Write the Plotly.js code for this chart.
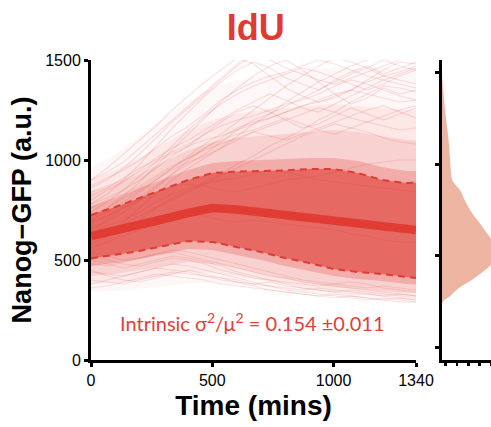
<!DOCTYPE html>
<html><head><meta charset="utf-8">
<script src="https://cdn.plot.ly/plotly-3.0.1.min.js"></script>
<style>html,body{margin:0;padding:0;background:#fff}</style>
</head><body><div id="chart" style="width:491px;height:427px"></div>
<script>
// summary time grid (mins)
const time = [0,100,200,300,400,500,600,700,800,900,1000,1100,1200,1300,1340];
const meanGFP  = [620,645,675,705,735,760,752,738,720,712,700,688,672,655,650];
const upperSD  = [725,765,810,855,900,935,942,945,948,955,955,935,900,885,887];
const lowerSD  = [508,525,545,570,595,590,565,540,510,485,455,440,430,415,410];
// envelopes of the trajectory cloud
const cloudU13 = [770,810,860,905,950,985,995,1000,1005,1010,1010,995,965,945,945];
const cloudL13 = [470,485,505,530,555,550,525,500,470,445,420,405,395,380,378];
const cloudU2  = [840,880,930,990,1050,1090,1110,1120,1130,1140,1150,1140,1120,1100,1100];
const cloudL2  = [420,430,450,470,490,480,460,430,405,385,365,355,345,335,335];
const cloudU25 = [900,950,1010,1080,1150,1200,1230,1250,1260,1270,1280,1270,1260,1250,1250];
const cloudL25 = [380,385,400,420,440,435,420,400,380,360,345,335,325,318,318];
const cloudUA  = [960,1030,1120,1210,1290,1360,1400,1420,1440,1450,1460,1460,1460,1460,1460];
const cloudLA  = [340,345,355,370,385,385,375,365,350,335,320,312,305,300,300];

// single-cell trajectories (sampled every 67 mins)
const trajTime = [0,67,134,201,268,335,402,469,536,603,670,737,804,871,938,1005,1072,1139,1206,1273,1340];
const traj01 = [860,900,960,1030,1110,1190,1260,1330,1400,1470,1520,1560,1540,1500,1530,1560,1540,1520,1550,1530,1540];
const traj02 = [780,830,900,980,1070,1160,1240,1320,1390,1450,1490,1460,1410,1380,1350,1400,1440,1470,1430,1460,1490];
const traj03 = [720,760,820,890,970,1050,1130,1210,1290,1360,1420,1470,1500,1450,1390,1330,1280,1310,1360,1330,1350];
const traj04 = [900,960,1030,1100,1170,1250,1320,1390,1450,1510,1480,1420,1360,1320,1290,1310,1350,1400,1450,1490,1480];
const traj05 = [680,720,770,840,900,960,1020,1080,1130,1190,1250,1310,1370,1420,1470,1510,1490,1460,1420,1440,1470];
const traj06 = [800,850,890,950,1010,1060,1100,1150,1200,1250,1290,1330,1300,1260,1240,1280,1320,1360,1400,1380,1360];
const traj07 = [650,700,760,810,870,930,980,1030,1090,1150,1200,1230,1270,1310,1350,1390,1430,1460,1500,1470,1450];
const traj08 = [740,790,850,900,960,1020,1070,1130,1190,1240,1270,1240,1200,1160,1180,1220,1260,1230,1200,1230,1260];
const traj09 = [870,910,950,1000,1060,1120,1170,1230,1300,1350,1390,1420,1440,1470,1500,1480,1450,1420,1400,1430,1460];
const traj10 = [700,740,790,850,900,950,990,1020,1060,1100,1140,1170,1200,1230,1260,1240,1210,1190,1220,1250,1270];
const traj11 = [820,860,910,960,1000,1040,1080,1130,1170,1200,1220,1250,1280,1300,1330,1370,1400,1380,1350,1320,1300];
const traj12 = [760,800,830,870,920,970,1010,1050,1080,1110,1140,1120,1100,1130,1160,1190,1220,1250,1270,1240,1210];
const traj13 = [640,670,700,740,790,830,860,880,900,910,930,950,940,920,900,890,880,870,860,850,840];
const traj14 = [560,590,620,650,680,710,730,720,700,690,700,690,680,670,660,650,630,620,600,590,590];
const traj15 = [690,720,760,800,840,870,880,870,850,840,860,880,900,910,920,940,960,980,990,1000,1000];
const traj16 = [440,430,420,440,460,480,470,450,430,410,390,370,360,350,360,350,340,330,320,330,320];
const traj17 = [480,470,490,510,530,550,540,520,500,480,460,440,420,400,390,380,370,360,370,360,350];
const traj18 = [400,390,380,400,420,440,430,420,400,390,380,390,370,360,350,340,350,340,330,320,310];
const traj19 = [520,500,480,470,490,510,500,480,450,430,410,400,390,380,370,380,390,380,360,350,340];
const traj20 = [360,370,390,410,430,420,410,400,380,370,360,350,340,330,320,330,320,310,300,310,300];
const traj21 = [600,640,690,760,830,900,960,1010,1060,1120,1180,1230,1290,1340,1390,1430,1470,1500,1530,1520,1510];
const traj22 = [780,810,850,920,990,1070,1150,1220,1280,1330,1370,1400,1430,1460,1440,1410,1380,1350,1380,1420,1450];
const traj23 = [660,690,740,800,860,930,1000,1060,1110,1160,1190,1210,1240,1270,1300,1330,1350,1330,1310,1290,1300];
const traj24 = [720,760,810,860,910,960,1010,1060,1100,1130,1150,1180,1210,1180,1150,1130,1160,1190,1170,1150,1160];
const traj25 = [840,870,900,940,990,1030,1070,1100,1120,1150,1180,1210,1240,1270,1290,1320,1350,1390,1420,1400,1380];
const traj26 = [630,650,680,720,760,800,840,880,920,960,1000,1040,1080,1120,1150,1180,1160,1140,1110,1090,1080];
const traj27 = [900,940,990,1060,1130,1200,1270,1340,1410,1480,1530,1500,1460,1430,1400,1380,1410,1440,1470,1500,1520];
const traj28 = [580,620,660,700,760,810,850,890,930,980,1020,1070,1110,1150,1200,1240,1290,1330,1370,1360,1340];
const traj29 = [450,420,400,390,410,430,450,430,410,390,370,350,340,330,320,310,320,310,300,290,290];
const traj30 = [500,480,460,480,500,520,510,490,470,440,420,400,380,360,350,340,330,330,320,310,300];
const traj31 = [380,400,420,440,460,450,440,420,410,400,380,370,350,340,330,320,310,300,310,300,290];
const traj32 = [540,520,500,510,530,540,520,500,480,460,440,420,410,390,380,370,360,350,340,330,320];
const trajectories = [traj01,traj02,traj03,traj04,traj05,traj06,traj07,traj08,traj09,traj10,
                      traj11,traj12,traj13,traj14,traj15,traj16,traj17,traj18,traj19,traj20,
                      traj21,traj22,traj23,traj24,traj25,traj26,traj27,traj28,traj29,traj30,traj31,traj32];

// marginal distribution (right panel)
const densLevel = [241,260,274,323,367,421,460,493,530,558,602,646,679,720,766,812,859,890,914,960,1000,1133,1270,1407,1489];
const densValue = [0,0.05,0.12,0.28,0.5,0.72,0.85,0.9,0.9,0.88,0.8,0.7,0.63,0.53,0.44,0.37,0.3,0.22,0.17,0.15,0.14,0.11,0.06,0.02,0];

const RED = 'rgb(224,60,52)';
const fnt = '"Liberation Sans", Arial, Helvetica, sans-serif';

function band(lo, hi, alpha){
  return [
    {x: time, y: lo, mode:'lines', line:{width:0}, hoverinfo:'skip', showlegend:false, xaxis:'x', yaxis:'y'},
    {x: time, y: hi, mode:'lines', line:{width:0}, fill:'tonexty', fillcolor:`rgba(224,60,52,${alpha})`, hoverinfo:'skip', showlegend:false, xaxis:'x', yaxis:'y'}
  ];
}

const traces = [];
traces.push(...band(cloudLA, cloudUA, 0.04));
traces.push(...band(cloudL25, cloudU25, 0.08));
traces.push(...band(cloudL2, cloudU2, 0.13));
traces.push(...band(cloudL13, cloudU13, 0.24));
traces.push(...band(lowerSD, upperSD, 0.6));
trajectories.forEach(tr => traces.push({x: trajTime, y: tr, mode:'lines', line:{color:'rgba(224,60,52,0.15)', width:1.2}, hoverinfo:'skip', showlegend:false}));
traces.push({x: time, y: upperSD, mode:'lines', line:{color:RED, width:2, dash:'7px,5px'}, showlegend:false});
traces.push({x: time, y: lowerSD, mode:'lines', line:{color:RED, width:2, dash:'7px,5px'}, showlegend:false});
traces.push({x: time, y: meanGFP, mode:'lines', line:{color:RED, width:8.5}, showlegend:false});
traces.push({x: densValue, y: densLevel, mode:'lines', line:{width:0, shape:'spline'}, fill:'tozerox', fillcolor:'rgb(237,180,162)', xaxis:'x2', yaxis:'y2', showlegend:false, hoverinfo:'skip'});

const axisCommon = {showline:true, linewidth:3, linecolor:'#000', ticks:'outside', tickcolor:'#000', showgrid:false, zeroline:false, tickfont:{family:fnt, size:16, color:'#000'}};

const layout = {
  width:491, height:427,
  margin:{l:91, r:0, t:60, b:67},
  paper_bgcolor:'#fff', plot_bgcolor:'rgba(0,0,0,0)',
  showlegend:false,
  title:{text:'IdU', font:{family:fnt, size:36, weight:'bold', color:'rgb(224,58,50)'}, x:0.521, xref:'container', xanchor:'center', y:0.937, yref:'container', yanchor:'middle'},
  xaxis:Object.assign({}, axisCommon, {domain:[0,0.8125], range:[0,1340], tickvals:[0,500,1000,1340], ticktext:['0','500','1000','1340'], ticklen:4, tickwidth:3, anchor:'y',
    title:{text:'Time (mins)', font:{family:fnt, size:28, weight:'bold', color:'#000'}, standoff:8}}),
  yaxis:Object.assign({}, axisCommon, {domain:[0,1], range:[0,1500], tickvals:[0,500,1000,1500], ticklen:4, tickwidth:3, anchor:'x',
    title:{text:'Nanog\u2212GFP (a.u.)', font:{family:fnt, size:27, weight:'bold', color:'#000'}, standoff:6}}),
  xaxis2:Object.assign({}, axisCommon, {domain:[0.8775,1], range:[0,0.82], anchor:'y2', tick0:0.06, dtick:0.19, ticklen:3, tickwidth:2.5, showticklabels:false}),
  yaxis2:Object.assign({}, axisCommon, {domain:[0,1], range:[-71,1571], anchor:'x2', tickvals:[0,500,1000,1500], ticklen:4, tickwidth:3, showticklabels:false}),
  annotations:[{x:664, y:192, xref:'x', yref:'y', showarrow:false,
    text:'Intrinsic σ<sup>2</sup>/μ<sup>2</sup> = 0.154 ±0.011',
    font:{family:'Lato, "Open Sans", sans-serif', size:20, color:'rgb(224,64,58)'}}]
};

Plotly.newPlot('chart', traces, layout, {staticPlot:true, displayModeBar:false});
</script></body></html>
